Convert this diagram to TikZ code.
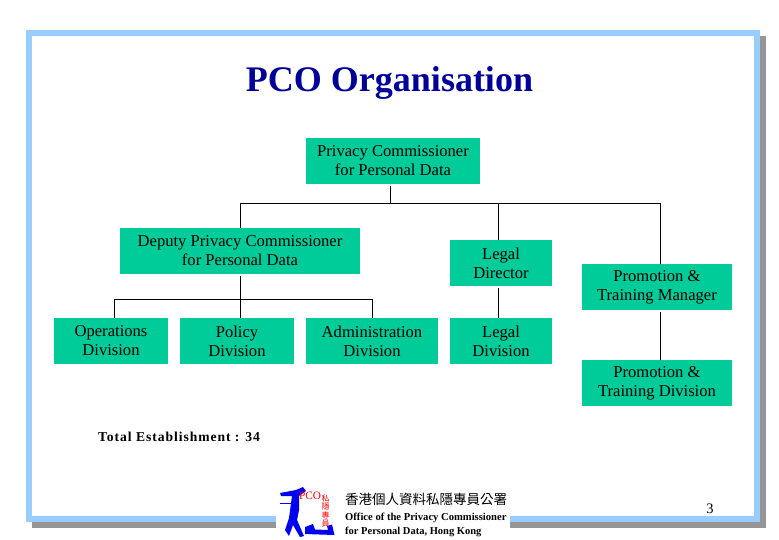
\documentclass[tikz,border=0pt]{standalone}
\usepackage{fontspec}
\setmainfont{Liberation Serif}
\newfontfamily\cjkfont{Noto Sans CJK TC}
\definecolor{framecol}{RGB}{153,204,255}
\definecolor{shadecol}{RGB}{150,150,150}
\definecolor{boxcol}{RGB}{0,204,153}
\definecolor{titlecol}{RGB}{0,0,153}
\definecolor{logoblue}{RGB}{0,0,240}
\tikzset{
    orgbox/.style={fill=boxcol, align=center, inner sep=0pt, font=\fontsize{16.6}{19}\selectfont},
    orgline/.style={black, line width=0.9pt},
    orgdrop/.style={orgline, shorten <=2pt}
}
\begin{document}
\begin{tikzpicture}[x=1pt, y=-1pt]
    \useasboundingbox (0,0) rectangle (779,539);
    % frame
    \fill[shadecol] (32,36) rectangle (766,528);
    \fill[framecol] (26,30) rectangle (760,522);
    \fill[white] (32,36) rectangle (754,516);
    \fill[white] (276,484) rectangle (510,539);

    \node[anchor=base, inner sep=0pt, titlecol, font=\fontsize{36}{40}\selectfont\bfseries] (title) at (389.5,91) {PCO Organisation};

    % boxes
    \node[orgbox, minimum width=174pt, minimum height=46pt] (commissioner) at (393,161) {Privacy Commissioner\\for Personal Data};
    \node[orgbox, minimum width=240pt, minimum height=46pt] (deputy) at (240,251) {Deputy Privacy Commissioner\\for Personal Data};
    \node[orgbox, minimum width=102pt, minimum height=46pt] (director) at (501,263) {Legal\\Director};
    \node[orgbox, minimum width=150pt, minimum height=46pt] (manager) at (657,287) {Promotion \&\\Training Manager};

    \node[orgbox, minimum width=114pt, minimum height=46pt] (operations) at (111,341) {Operations\\Division};
    \node[orgbox, minimum width=114pt, minimum height=46pt] (policy) at (237,341) {Policy\\Division};
    \node[orgbox, minimum width=132pt, minimum height=46pt] (administration) at (372,341) {Administration\\Division};
    \node[orgbox, minimum width=102pt, minimum height=46pt] (legal) at (501,341) {Legal\\Division};
    \node[orgbox, minimum width=150pt, minimum height=46pt] (training) at (657,383) {Promotion \&\\Training Division};

    % connectors
    \coordinate (topjoin) at (390,203.3);
    \coordinate (topleft) at (240,203.3);
    \coordinate (topmid) at (498,203.3);
    \coordinate (topright) at (660,203.3);
    \coordinate (deputyjoin) at (240,299.3);
    \coordinate (opsjoin) at (114,299.3);
    \coordinate (adminjoin) at (372,299.3);
    \draw[orgdrop] (commissioner.south -| topjoin) -- (topjoin);
    \draw[orgline] (topleft) -- (topright);
    \draw[orgline] (topleft) -- (deputy.north -| topleft);
    \draw[orgline] (topmid) -- (director.north -| topmid);
    \draw[orgline] (topright) -- (manager.north -| topright);
    \draw[orgdrop] (deputy.south -| deputyjoin) -- (policy.north -| deputyjoin);
    \draw[orgline] (opsjoin) -- (adminjoin);
    \draw[orgline] (opsjoin) -- (operations.north -| opsjoin);
    \draw[orgline] (adminjoin) -- (administration.north -| adminjoin);
    \draw[orgdrop] (director.south -| topmid) -- (legal.north -| topmid);
    \draw[orgdrop] (manager.south -| topright) -- (training.north -| topright);

    \node[anchor=west, inner sep=0pt, font=\fontsize{13.6}{15}\selectfont\bfseries\addfontfeature{LetterSpace=7}] (total) at (98,437) {Total Establishment : 34};
    \node[inner sep=0pt, font=\fontsize{14.5}{16}\selectfont] (pagenum) at (710,509) {3};

    % logo
    \fill[logoblue] (280,493) -- (296,490) -- (303,487) -- (306,491) -- (299,496) -- (299,510) -- (297,520) -- (304,536) -- (300,537) -- (293,525) -- (289,536) -- (285,530) -- (289,518) -- (292,496) -- (281,496) -- cycle;
    \fill[logoblue] (280,502.5) rectangle (293,504);
    \fill[logoblue] (305,527) -- (313,524) -- (315,529.5) -- (328,530) -- (327,526) -- (332,524.5) -- (334.5,535) -- (305,534) -- cycle;
    \node[red, inner sep=0pt, font=\fontsize{11.3}{12}\selectfont] (pco) at (310,496) {PCO};
    \node[red, inner sep=0pt, align=center, font=\cjkfont\fontsize{8}{8.6}\selectfont] (pcocjk) at (325.5,511) {私\\隱\\專\\員};
    \node[anchor=west, inner sep=0pt, font=\cjkfont\fontsize{13.5}{15}\selectfont] (logocjk) at (345,499) {香港個人資料私隱專員公署};
    \node[anchor=west, inner sep=0pt, font=\fontsize{10.6}{12}\selectfont\bfseries] (logoone) at (345,518) {Office of the Privacy Commissioner};
    \node[anchor=west, inner sep=0pt, font=\fontsize{10.5}{12}\selectfont\bfseries] (logotwo) at (345,532) {for Personal Data, Hong Kong};
\end{tikzpicture}
\end{document}
